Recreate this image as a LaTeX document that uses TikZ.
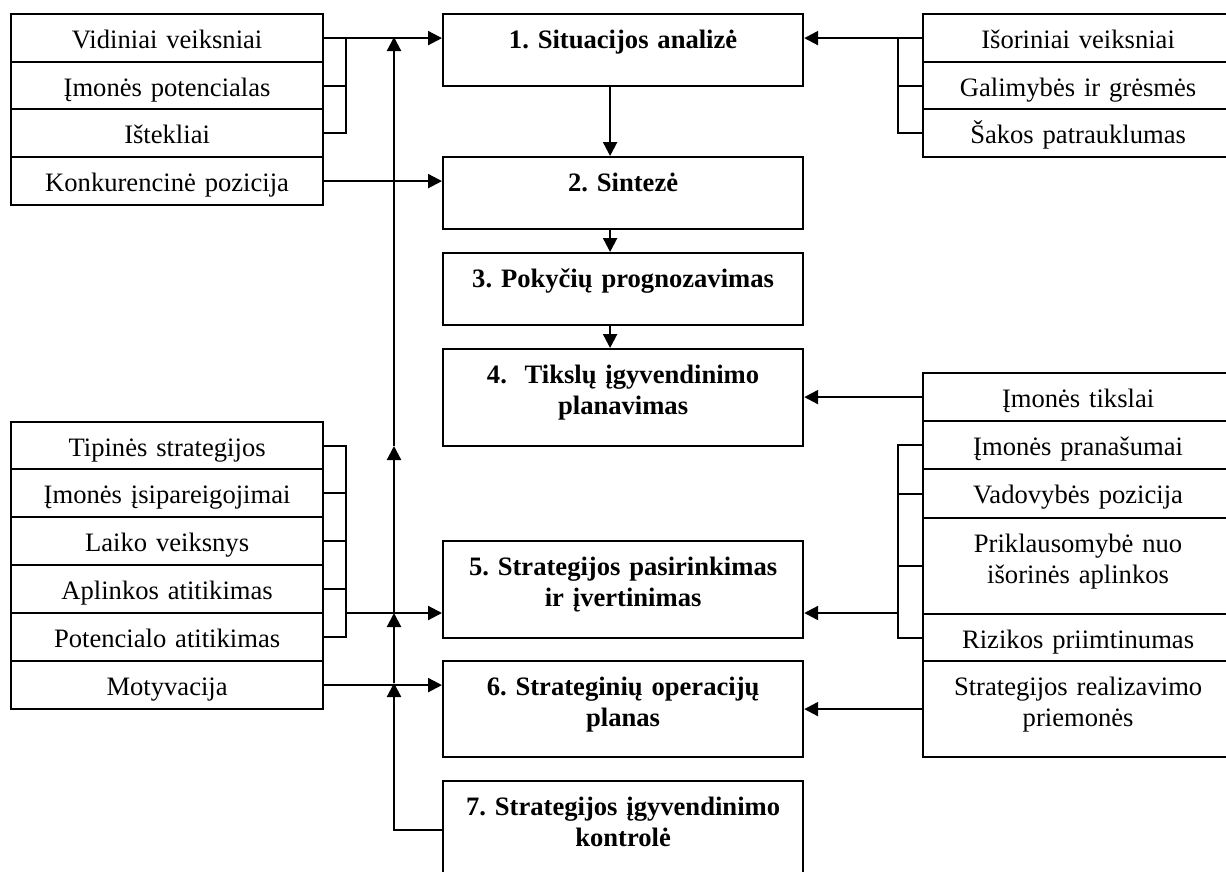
\documentclass[tikz,border=0pt]{standalone}
\usepackage{fontspec}
\setmainfont{Liberation Serif}
\usetikzlibrary{arrows.meta}
\frenchspacing
\begin{document}
\begin{tikzpicture}[x=1pt,y=-1pt,line width=2.2pt,
  txt/.style={font=\fontsize{26.6pt}{31pt}\selectfont},
  cell/.style={draw, line width=2.2pt, inner sep=0pt, anchor=north west,
    align=center, text height=34pt, txt},
  factor/.style={cell, text width=312pt},
  rfactor/.style={cell, text width=310pt},
  stage/.style={cell, text width=360pt,
    font=\fontsize{26.6pt}{31pt}\selectfont\bfseries},
  arr/.style={-{Triangle[length=14pt,width=14pt]}}]
\useasboundingbox (0,0) rectangle (1226,871);

% ---- central stages ----
\node[stage, text depth=38pt] (B1) at (442,13)  {1. Situacijos analizė};
\node[stage, text depth=38pt] (B2) at (442,156) {2. Sintezė};
\node[stage, text depth=38pt] (B3) at (442,252) {3. Pokyčių prognozavimas};
\node[stage, text depth=63pt] (B4) at (442,348) {4.\ \ Tikslų įgyvendinimo\\planavimas};
\node[stage, text depth=63pt] (B5) at (442,540) {5. Strategijos pasirinkimas\\ir įvertinimas};
\node[stage, text depth=62pt] (B6) at (442,660) {6. Strateginių operacijų\\planas};
\node[stage, text depth=63pt] (B7) at (442,780) {7. Strategijos įgyvendinimo\\kontrolė};

% ---- internal factors (upper left) ----
\node[factor, text depth=14pt] (L1) at (10,13)  {Vidiniai veiksniai};
\node[factor, text depth=13pt] (L2) at (10,61)  {Įmonės potencialas};
\node[factor, text depth=14pt] (L3) at (10,108) {Ištekliai};
\node[factor, text depth=14pt] (L4) at (10,156) {Konkurencinė pozicija};

% ---- external factors (upper right) ----
\node[rfactor, text depth=14pt] (R1) at (922,13)  {Išoriniai veiksniai};
\node[rfactor, text depth=13pt] (R2) at (922,61)  {Galimybės ir grėsmės};
\node[rfactor, text depth=14pt] (R3) at (922,108) {Šakos patrauklumas};

% ---- goals and conditions (lower right) ----
\node[rfactor, text depth=14pt] (R4) at (922,372) {Įmonės tikslai};
\node[rfactor, text depth=14pt] (R5) at (922,420) {Įmonės pranašumai};
\node[rfactor, text depth=15pt] (R6) at (922,468) {Vadovybės pozicija};
\node[rfactor, text depth=62pt] (R7) at (922,517) {Priklausomybė nuo\\išorinės aplinkos};
\node[rfactor, text depth=13pt] (R8) at (922,613) {Rizikos priimtinumas};
\node[rfactor, text depth=62pt] (R9) at (922,660) {Strategijos realizavimo\\priemonės};

% ---- selection criteria (lower left) ----
\node[factor, text depth=13pt] (L5)  at (10,421) {Tipinės strategijos};
\node[factor, text depth=14pt] (L6)  at (10,468) {Įmonės įsipareigojimai};
\node[factor, text depth=14pt] (L7)  at (10,516) {Laiko veiksnys};
\node[factor, text depth=14pt] (L8)  at (10,564) {Aplinkos atitikimas};
\node[factor, text depth=14pt] (L9)  at (10,612) {Potencialo atitikimas};
\node[factor, text depth=14pt] (L10) at (10,660) {Motyvacija};

% ---- junction points ----
\coordinate (jl1) at (346,37);
\coordinate (jr1) at (898,37);
\coordinate (jl2) at (346,613);
\coordinate (jr2) at (898,613);
\coordinate (up1) at (394,37);
\coordinate (up2) at (394,446);
\coordinate (up3) at (394,613);
\coordinate (up4) at (394,683);

% ---- main chain ----
\draw[arr] ([xshift=-13pt]B1.south) -- ([xshift=-13pt]B2.north);
\draw[arr] ([xshift=-13pt]B2.south) -- ([xshift=-13pt]B3.north);
\draw[arr] ([xshift=-13pt]B3.south) -- ([xshift=-13pt]B4.north);

% ---- upper left bracket ----
\draw[arr] (L1.east) -- (L1.east -| B1.west);
\draw (L2.east) -- (L2.east -| jl1);
\draw (L3.east) -| (jl1);
\draw[arr] (L4.east) -- (L4.east -| B2.west);

% ---- upper right bracket ----
\draw[arr] (R1.west) -- (R1.west -| B1.east);
\draw (R2.west) -- (R2.west -| jr1);
\draw (R3.west) -| (jr1);

% ---- lower right ----
\draw[arr] (R4.west) -- (R4.west -| B4.east);
\draw (R5.west) -| (R8.west -| jr2) -- (R8.west);
\draw (R6.west) -- (R6.west -| jr2);
\draw (R7.west) -- (R7.west -| jr2);
\draw[arr] (jr2) -- (jr2 -| B5.east);
\draw[arr] (R9.west) -- (R9.west -| B6.east);

% ---- lower left bracket ----
\draw (L5.east) -| (L9.east -| jl2) -- (L9.east);
\draw (L6.east) -- (L6.east -| jl2);
\draw (L7.east) -- (L7.east -| jl2);
\draw (L8.east) -- (L8.east -| jl2);
\draw[arr] (jl2) -- (jl2 -| B5.west);
\draw[arr] (L10.east) -- (L10.east -| B6.west);

% ---- control feedback ----
\draw[arr] (B7.west) -| (up4);
\draw[arr] (up4) -- (up3);
\draw[arr] (up3) -- (up2);
\draw[arr] (up2) -- (up1);
\end{tikzpicture}
\end{document}
